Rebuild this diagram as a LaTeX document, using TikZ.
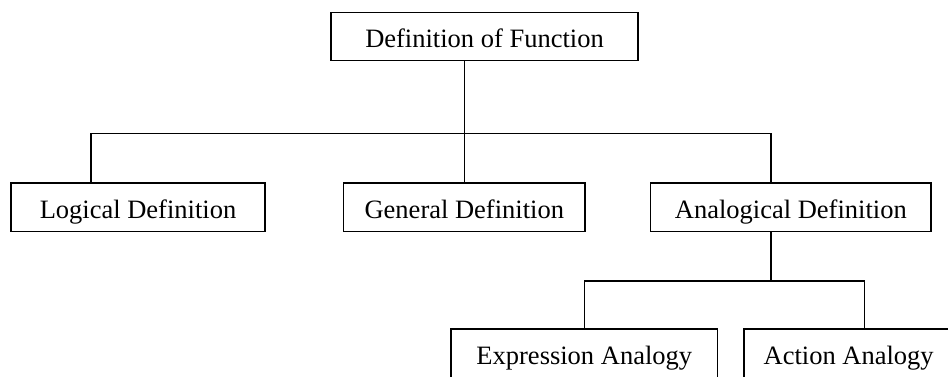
\documentclass[tikz,border=0pt]{standalone}
\usepackage{fontspec}
\setmainfont{Liberation Serif}
\begin{document}
\begin{tikzpicture}[x=1pt,y=-1pt,
  box/.style={draw=black, line width=1.6pt, fill=white, inner sep=0pt,
    minimum height=48.6pt, text height=23pt, text depth=0pt,
    font=\fontsize{26.5}{30}\selectfont},
  conn/.style={draw=black, line width=1.6pt}]
\useasboundingbox (0,0) rectangle (948,376);
\fill[white] (0,0) rectangle (948,376);
\node[box, minimum width=307pt, minimum height=48pt] (top) at (484.5,36.3) {Definition of Function};
\node[box, minimum width=254pt] (log) at (138,207) {Logical Definition};
\node[box, minimum width=241.3pt] (gen) at (464.3,207) {General Definition};
\node[box, minimum width=280.3pt] (ana) at (790.8,207) {Analogical Definition};
\node[box, minimum width=266.7pt] (exp) at (584.3,353.3) {Expression Analogy};
\node[box, minimum width=210pt] (act) at (848.7,353.3) {Action Analogy};
\coordinate (j1) at (464.3,133.3);
\coordinate (j2) at (771,280.7);
\draw[conn] (j1 |- top.south) -- (j1);
\draw[conn] (log.north -| 90.7,0) |- (j1) -| (ana.north -| 770.7,0);
\draw[conn] (j1) -- (gen.north);
\draw[conn] (j2 |- ana.south) -- (j2);
\draw[conn] (exp.north) |- (j2) -| (act.north -| 864.3,0);
\end{tikzpicture}
\end{document}
